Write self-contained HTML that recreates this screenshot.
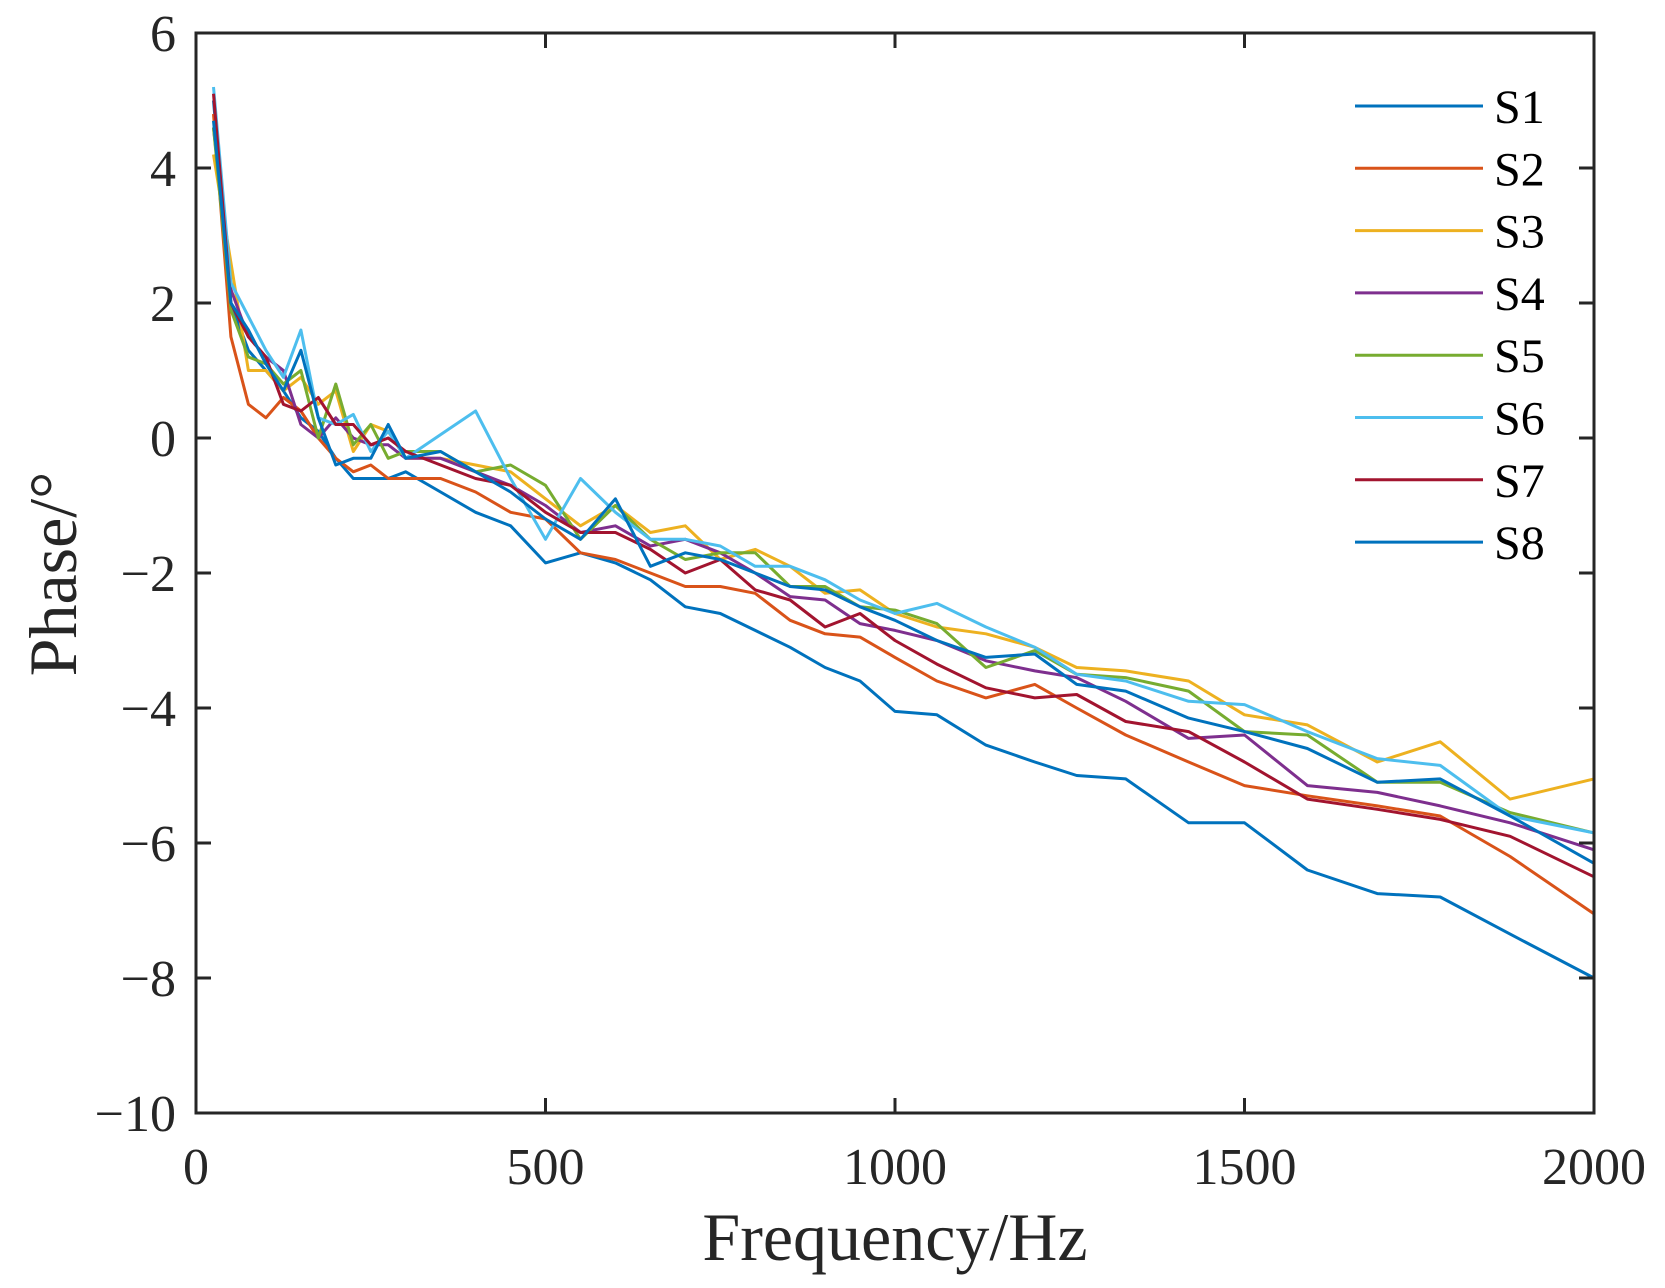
<!DOCTYPE html>
<html><head><meta charset="utf-8"><style>
html,body{margin:0;padding:0;background:#fff;}
svg{display:block;font-family:"Liberation Serif",serif;}
</style></head><body>
<svg id="chart" width="1665" height="1288" xmlns="http://www.w3.org/2000/svg"></svg>
<script>
const freqs=[25,50,75,100,125,150,175,200,225,250,275,300,350,400,450,500,550,600,650,700,750,800,850,900,950,1000,1060,1130,1200,1260,1330,1420,1500,1590,1690,1780,1880,2000];
const s1=[5.0,2.0,1.3,1.0,0.7,0.3,0.1,-0.3,-0.6,-0.6,-0.6,-0.5,-0.8,-1.1,-1.3,-1.85,-1.7,-1.85,-2.1,-2.5,-2.6,-2.85,-3.1,-3.4,-3.6,-4.05,-4.1,-4.55,-4.8,-5.0,-5.05,-5.7,-5.7,-6.4,-6.75,-6.8,-7.35,-8.0];
const s2=[4.8,1.5,0.5,0.3,0.6,0.4,0.0,-0.3,-0.5,-0.4,-0.6,-0.6,-0.6,-0.8,-1.1,-1.2,-1.7,-1.8,-2.0,-2.2,-2.2,-2.3,-2.7,-2.9,-2.95,-3.25,-3.6,-3.85,-3.65,-4.0,-4.4,-4.8,-5.15,-5.3,-5.45,-5.6,-6.2,-7.05];
const s3=[4.2,2.6,1.0,1.0,0.7,0.9,0.5,0.7,-0.2,0.2,0.1,-0.3,-0.3,-0.4,-0.5,-0.9,-1.3,-1.0,-1.4,-1.3,-1.8,-1.65,-1.9,-2.3,-2.25,-2.6,-2.8,-2.9,-3.1,-3.4,-3.45,-3.6,-4.1,-4.25,-4.8,-4.5,-5.35,-5.05];
const s4=[4.6,2.2,1.5,1.2,1.0,0.2,0.0,0.3,0.0,-0.1,-0.1,-0.3,-0.3,-0.5,-0.7,-1.0,-1.4,-1.3,-1.6,-1.5,-1.7,-2.0,-2.35,-2.4,-2.75,-2.85,-3.0,-3.3,-3.45,-3.55,-3.9,-4.45,-4.4,-5.15,-5.25,-5.45,-5.7,-6.1];
const s5=[4.6,1.9,1.2,1.1,0.8,1.0,0.0,0.8,-0.1,0.2,-0.3,-0.2,-0.2,-0.5,-0.4,-0.7,-1.5,-1.0,-1.5,-1.8,-1.7,-1.7,-2.2,-2.2,-2.5,-2.55,-2.75,-3.4,-3.15,-3.5,-3.55,-3.75,-4.35,-4.4,-5.1,-5.1,-5.55,-5.85];
const s6=[5.2,2.3,1.8,1.3,0.9,1.6,0.3,0.2,0.35,-0.2,0.1,-0.3,0.05,0.4,-0.6,-1.5,-0.6,-1.1,-1.5,-1.5,-1.6,-1.9,-1.9,-2.1,-2.4,-2.6,-2.45,-2.8,-3.1,-3.5,-3.6,-3.9,-3.95,-4.35,-4.75,-4.85,-5.6,-5.85];
const s7=[5.1,2.0,1.5,1.2,0.5,0.4,0.6,0.2,0.2,-0.1,0.0,-0.2,-0.4,-0.6,-0.7,-1.1,-1.4,-1.4,-1.65,-2.0,-1.8,-2.25,-2.4,-2.8,-2.6,-3.0,-3.35,-3.7,-3.85,-3.8,-4.2,-4.35,-4.8,-5.35,-5.5,-5.65,-5.9,-6.5];
const s8=[4.7,2.0,1.6,1.1,0.7,1.3,0.3,-0.4,-0.3,-0.3,0.2,-0.3,-0.2,-0.5,-0.8,-1.2,-1.5,-0.9,-1.9,-1.7,-1.8,-2.0,-2.2,-2.25,-2.5,-2.7,-3.0,-3.25,-3.2,-3.65,-3.75,-4.15,-4.35,-4.6,-5.1,-5.05,-5.6,-6.3];
const seriesNames=["S1","S2","S3","S4","S5","S6","S7","S8"];
const xTicks=[0,500,1000,1500,2000];
const yTicks=[6,4,2,0,-2,-4,-6,-8,-10];

const svg=document.getElementById('chart');
const NS="http://www.w3.org/2000/svg";
const L=196,R=1594,T=33,B=1113,XMIN=0,XMAX=2000,YMIN=-10,YMAX=6;
const xs=v=>L+(v-XMIN)/(XMAX-XMIN)*(R-L);
const ys=v=>B-(v-YMIN)/(YMAX-YMIN)*(B-T);
const colors=["#0072BD","#D95319","#EDB120","#7E2F8E","#77AC30","#4DBEEE","#A2142F","#0072BD"];
const data=[s1,s2,s3,s4,s5,s6,s7,s8];
function mk(tag,attrs,text){const e=document.createElementNS(NS,tag);for(const k in attrs)e.setAttribute(k,attrs[k]);if(text!==undefined)e.textContent=text;svg.appendChild(e);return e;}

data.forEach((arr,i)=>{
  const d=arr.map((v,j)=>(j?'L':'M')+xs(freqs[j]).toFixed(1)+','+ys(v).toFixed(1)).join(' ');
  const p=mk('path',{d:d,fill:'none',stroke:colors[i],'stroke-width':3,'stroke-linejoin':'round'});
  
  
});
const box=mk('rect',{x:L,y:T,width:R-L,height:B-T,fill:'none',stroke:'#262626','stroke-width':3});


xTicks.forEach(v=>{
  const x=xs(v);
  const t=mk('path',{d:`M${x},${B}V${B-15}M${x},${T}V${T+15}`,stroke:'#262626','stroke-width':3});
  
  
  const lb=mk('text',{x:x,y:1184,'text-anchor':'middle','font-size':52,fill:'#262626'},String(v));
  
  
});
yTicks.forEach(v=>{
  const y=ys(v);
  const t=mk('path',{d:`M${L},${y}H${L+15}M${R},${y}H${R-15}`,stroke:'#262626','stroke-width':3});
  
  
  const lb=mk('text',{x:176,y:y+18,'text-anchor':'end','font-size':52,fill:'#262626'},v<0?'\u2212'+Math.abs(v):String(v));
  
  
});
const xt=mk('text',{x:895,y:1260,'text-anchor':'middle','font-size':68,fill:'#262626'},'Frequency/Hz');


const yt=mk('text',{x:0,y:0,'text-anchor':'middle','font-size':68,fill:'#262626',transform:'translate(76,574) rotate(-90)'},'Phase/°');


seriesNames.forEach((n,i)=>{
  const y=106+i*62.3;
  const ln=mk('line',{x1:1355,x2:1483,y1:y,y2:y,stroke:colors[i],'stroke-width':3});
  
  
  const tx=mk('text',{x:1494,y:y+17,'font-size':48,fill:'#000'},n);
  
  
});
</script>
</body></html>
